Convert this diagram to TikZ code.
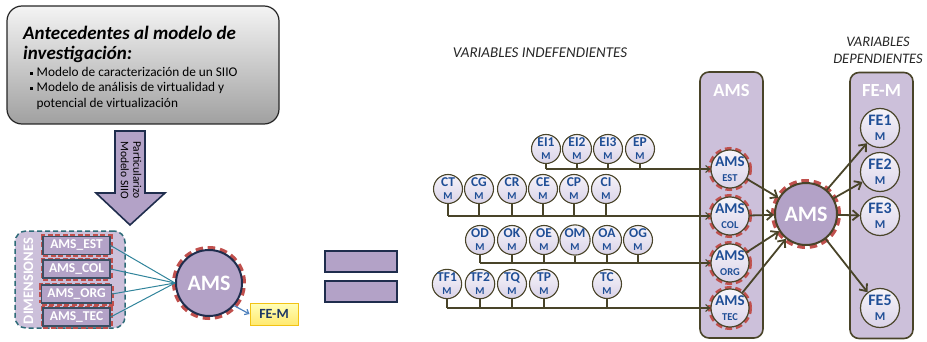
\documentclass[tikz,border=0pt]{standalone}
\usepackage{fontspec}
\setmainfont{Carlito}
\usetikzlibrary{arrows.meta}
\definecolor{purp}{HTML}{B3A2C7}
\definecolor{lpurp}{HTML}{CCC0DA}
\definecolor{navy}{HTML}{1F2D4D}
\definecolor{olivd}{HTML}{494429}
\definecolor{redd}{HTML}{C0504D}
\definecolor{teal2}{HTML}{31849B}
\definecolor{tealb}{HTML}{2E6B78}
\definecolor{dimb}{HTML}{3B4F63}
\definecolor{vblue}{HTML}{1F4E96}
\definecolor{vtop}{HTML}{F6F4FA}
\definecolor{vbot}{HTML}{DAD3E8}
\definecolor{fblue}{HTML}{4F81BD}
\definecolor{ytop}{HTML}{FFFFB8}
\definecolor{ybot}{HTML}{FFE970}
\definecolor{yedge}{HTML}{F2C314}
\definecolor{dnavy}{HTML}{1F3864}
\definecolor{gtop}{HTML}{F4F4F4}
\definecolor{gbot}{HTML}{A0A0A0}
\definecolor{txt}{HTML}{262626}
\newcommand\vlab[2]{#1\\{\fontsize{10.5}{10.5}\selectfont #2}}
\newcommand\alab[2]{#1\\{\fontsize{10.5}{10.5}\selectfont #2}}
\newcommand\flab[2]{#1\\{\fontsize{12}{12}\selectfont #2}}
\begin{document}
\begin{tikzpicture}[x=1pt,y=-1pt,
  varc/.style={circle, draw=olivd, line width=1.1pt, top color=vtop, bottom color=vbot, minimum size=29pt, inner sep=0pt, align=center, text=vblue, font=\bfseries\fontsize{13.5}{13}\selectfont},
  amsc/.style={circle, draw=olivd, line width=1.2pt, top color=vtop, bottom color=vbot, minimum size=38pt, inner sep=0pt, align=center, text=vblue, font=\bfseries\fontsize{15}{14.5}\selectfont, preaction={draw=redd, line width=6pt, dash pattern=on 6pt off 3.5pt}},
  fec/.style={circle, draw=olivd, line width=1.2pt, top color=vtop, bottom color=vbot, minimum size=39pt, inner sep=0pt, align=center, text=vblue, font=\bfseries\fontsize{16}{15.5}\selectfont},
  bigc/.style={circle, draw=olivd, line width=2pt, fill=purp, minimum size=62pt, inner sep=0pt, text=white, font=\bfseries\fontsize{22}{22}\selectfont, preaction={draw=redd, line width=8pt, dash pattern=on 7pt off 4.5pt}},
  colbox/.style={draw=olivd, line width=1.6pt, fill=lpurp, rounded corners=9pt, minimum width=63pt, minimum height=266pt, inner sep=0pt},
  coltitle/.style={text=white, font=\bfseries\fontsize{18.5}{18.5}\selectfont},
  dimr/.style={draw=dimb, line width=1.2pt, fill=purp, minimum width=67pt, minimum height=18pt, inner sep=0pt, text=white, font=\bfseries\fontsize{13.5}{13.5}\selectfont, preaction={draw=redd, line width=5pt, dash pattern=on 5pt off 2.5pt}},
  rowln/.style={draw=olivd, line width=1.1pt},
  rowarr/.style={rowln, -{Straight Barb[length=4pt, width=7pt]}},
  bigarr/.style={draw=olivd, line width=1.8pt, -{Straight Barb[length=6pt, width=10pt]}},
  eqr/.style={draw=navy, line width=2pt, fill=purp, minimum width=72pt, minimum height=21pt, inner sep=0pt}
]
\useasboundingbox (0,0) rectangle (927,342);

% ---------- left part ----------
\node[draw=black!85, line width=1.2pt, rounded corners=15pt, top color=gtop, bottom color=gbot, minimum width=272pt, minimum height=118pt, inner sep=0pt] (antbox) at (143,65) {};
\node[anchor=west, inner sep=0pt, font=\bfseries\itshape\fontsize{19}{19}\selectfont] (t1) at (23,33) {Antecedentes al modelo de};
\node[anchor=west, inner sep=0pt, font=\bfseries\itshape\fontsize{19}{19}\selectfont] (t2) at (23,54) {investigación:};
\node[anchor=west, inner sep=0pt, font=\fontsize{13.3}{13.3}\selectfont] (b1) at (30,72) {\rule[2pt]{3pt}{3pt}\hspace{3.5pt}Modelo de caracterización de un SIIO};
\node[anchor=west, inner sep=0pt, font=\fontsize{13.3}{13.3}\selectfont] (b2) at (30,88) {\rule[2pt]{3pt}{3pt}\hspace{3.5pt}Modelo de análisis de virtualidad y};
\node[anchor=west, inner sep=0pt, font=\fontsize{13.3}{13.3}\selectfont] (b3) at (36.5,104) {potencial de virtualización};

\draw[fill=purp, draw=navy, line width=1.6pt, line join=miter] (115,131) -- (145,131) -- (145,193) -- (165,193) -- (130,225) -- (96,193) -- (115,193) -- cycle;
\node[rotate=-90, align=center, font=\fontsize{11.5}{12.5}\selectfont, inner sep=0pt] (part) at (131,170) {Particularizo\\Modelo SIIO};

\node[draw=tealb, line width=1.5pt, dash pattern=on 5pt off 3pt, fill=lpurp, rounded corners=11pt, minimum width=110pt, minimum height=97pt, inner sep=0pt] (dimbox) at (70,279.5) {};
\node[rotate=90, text=white, font=\bfseries\fontsize{14.5}{14.5}\selectfont, inner sep=0pt] (dimt) at (28.5,281) {DIMENSIONES};
\node[dimr] (dest) at (76.5,245.5) {AMS\_EST};
\node[dimr] (dcol) at (76.5,269) {AMS\_COL};
\node[dimr, minimum width=70pt] (dorg) at (76.5,294) {AMS\_ORG};
\node[dimr] (dtec) at (76.5,317) {AMS\_TEC};

\node[bigc, draw=navy, minimum size=66pt] (amsl) at (209,283) {AMS};
\foreach \r in {dest,dcol,dorg,dtec} \draw[teal2, line width=1pt] (\r.east) -- (amsl.west);

\node[draw=yedge, line width=1pt, top color=ytop, bottom color=ybot, minimum width=48pt, minimum height=22pt, inner sep=0pt, text=dnavy, font=\bfseries\fontsize{14}{14}\selectfont] (femb) at (274,314) {FE-M};
\draw[fblue, line width=1.2pt, -{Straight Barb[length=3.5pt, width=6pt]}] (amsl.-42) -- (femb.west);

\node[eqr] (eq1) at (361,261.5) {};
\node[eqr] (eq2) at (361,291.5) {};

% ---------- right part ----------
\node[text=txt, font=\itshape\fontsize{15}{15}\selectfont] (vind) at (540,53) {VARIABLES INDEFENDIENTES};
\node[text=txt, font=\itshape\fontsize{14.5}{17}\selectfont, align=center] (vdep) at (878,50) {VARIABLES\\DEPENDIENTES};

\node[colbox] (amscol) at (731.5,205) {};
\node[colbox] (fecol) at (881.5,205.5) {};
\node[coltitle] (amst) at (731.5,90) {AMS};
\node[coltitle] (fet) at (881.5,91) {FE-M};

\node[amsc] (amsEST) at (730,169) {\alab{AMS}{EST}};
\node[amsc] (amsCOL) at (730,216) {\alab{AMS}{COL}};
\node[amsc] (amsORG) at (730,263) {\alab{AMS}{ORG}};
\node[amsc] (amsTEC) at (730,308) {\alab{AMS}{TEC}};

\node[bigc] (amsr) at (806,214) {AMS};

\node[fec] (fe1) at (880,128) {\flab{FE1}{M}};
\node[fec] (fe2) at (880,172) {\flab{FE2}{M}};
\node[fec] (fe3) at (880,216) {\flab{FE3}{M}};
\node[fec] (fe5) at (880,308) {\flab{FE5}{M}};

\foreach \a in {amsEST,amsCOL,amsORG,amsTEC} \draw[bigarr] (\a) -- (amsr);
\foreach \f in {fe1,fe2,fe3,fe5} \draw[bigarr] (amsr) -- (\f);

\coordinate (r1) at (0,169);
\coordinate (r2) at (0,216);
\coordinate (r3) at (0,263);
\coordinate (r4) at (0,308);

% row 1
\node[varc] (ei1) at (546,149) {\vlab{EI1}{M}};
\node[varc] (ei2) at (577,149) {\vlab{EI2}{M}};
\node[varc] (ei3) at (608,149) {\vlab{EI3}{M}};
\node[varc] (ep)  at (640,149) {\vlab{EP}{M}};
% row 2
\node[varc] (ct) at (448,189) {\vlab{CT}{M}};
\node[varc] (cg) at (479,189) {\vlab{CG}{M}};
\node[varc] (cr) at (512,189) {\vlab{CR}{M}};
\node[varc] (ce) at (543,189) {\vlab{CE}{M}};
\node[varc] (cp) at (574,189) {\vlab{CP}{M}};
\node[varc] (ci) at (606,189) {\vlab{CI}{M}};
% row 3
\node[varc] (od) at (480,240) {\vlab{OD}{M}};
\node[varc] (ok) at (512,240) {\vlab{OK}{M}};
\node[varc] (oe) at (544,240) {\vlab{OE}{M}};
\node[varc] (om) at (575,240) {\vlab{OM}{M}};
\node[varc] (oa) at (607,240) {\vlab{OA}{M}};
\node[varc] (og) at (638,240) {\vlab{OG}{M}};
% row 4
\node[varc] (tf1) at (447,284) {\vlab{TF1}{M}};
\node[varc] (tf2) at (480,284) {\vlab{TF2}{M}};
\node[varc] (tq)  at (512,284) {\vlab{TQ}{M}};
\node[varc] (tp)  at (544,284) {\vlab{TP}{M}};
\node[varc] (tc)  at (607,284) {\vlab{TC}{M}};

\foreach \n in {ei1,ei2,ei3,ep} \draw[rowln] (\n.south) -- (\n.south |- r1);
\foreach \n in {ct,cg,cr,ce,cp,ci} \draw[rowln] (\n.south) -- (\n.south |- r2);
\foreach \n in {od,ok,oe,om,oa,og} \draw[rowln] (\n.south) -- (\n.south |- r3);
\foreach \n in {tf1,tf2,tq,tp,tc} \draw[rowln] (\n.south) -- (\n.south |- r4);

\draw[rowarr] (ei1.south |- r1) -- (amsEST.west);
\draw[rowarr] (ct.south |- r2) -- (amsCOL.west);
\draw[rowarr] (od.south |- r3) -- (amsORG.west);
\draw[rowarr] (tf1.south |- r4) -- (amsTEC.west);
\end{tikzpicture}
\end{document}
